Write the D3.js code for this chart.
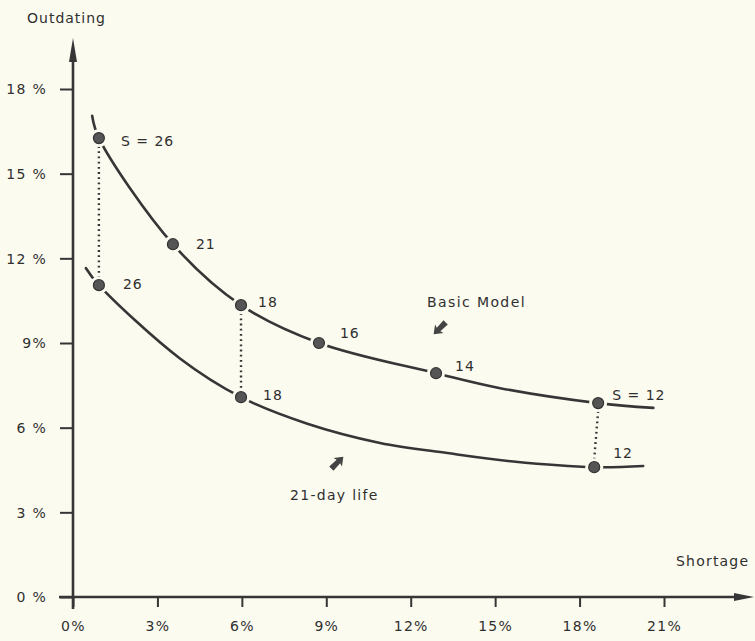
<!DOCTYPE html>
<html>
<head>
<meta charset="utf-8">
<script src="https://cdn.jsdelivr.net/npm/d3@7"></script>
<style>
  html, body { margin: 0; padding: 0; background: #fcfbf0; }
  svg { display: block; }
  text { font-family: "DejaVu Sans", sans-serif; fill: #2f2f2f; }
</style>
</head>
<body>
<svg id="chart" width="755" height="641"></svg>
<script>
// ---- data (in percent) ----
const xTicks = [0, 3, 6, 9, 12, 15, 18, 21];
const xTickLabels = ["0%", "3%", "6%", "9%", "12%", "15%", "18%", "21%"];
const yTicks = [0, 3, 6, 9, 12, 15, 18];
const yTickLabels = ["0 %", "3 %", "6 %", "9%", "12 %", "15 %", "18 %"];

// Basic Model: marked points (S value, shortage %, outdating %)
const basicS = ["S = 26", "21", "18", "16", "14", "S = 12"];
const basicShortage = [0.92, 3.55, 5.97, 8.74, 12.9, 18.66];
const basicOutdating = [16.26, 12.5, 10.34, 9.0, 7.93, 6.87];
// Basic Model: traced curve (shortage %, outdating %)
const basicCurveX = [0.68, 0.92, 3.55, 5.97, 8.74, 12.9, 15.18, 18.66, 20.62];
const basicCurveY = [17.05, 16.26, 12.5, 10.34, 9.0, 7.93, 7.4, 6.87, 6.7];

// 21-day life: marked points
const lifeS = ["26", "18", "12"];
const lifeShortage = [0.92, 5.97, 18.52];
const lifeOutdating = [11.05, 7.08, 4.6];
// 21-day life: traced curve
const lifeCurveX = [0.46, 0.92, 3.8, 5.97, 8.3, 10.91, 13.3, 15.64, 18.52, 20.26];
const lifeCurveY = [11.65, 11.05, 8.45, 7.08, 6.15, 5.46, 5.1, 4.8, 4.6, 4.64];

// ---- drawing ----
const svg = d3.select("#chart");
const bg = "#fcfbf0";
const ink = "#363636";
const fs = "14px";

const x = d3.scaleLinear().domain([0, 21]).range([73, 664]);
const y = d3.scaleLinear().domain([0, 18]).range([597, 89]);

// axes
const xAxis = d3.axisBottom(x).tickValues(xTicks)
  .tickFormat((d, i) => xTickLabels[i]).tickSize(10).tickPadding(14);
const yAxis = d3.axisLeft(y).tickValues(yTicks)
  .tickFormat((d, i) => yTickLabels[i]).tickSize(13).tickPadding(13);

const gx = svg.append("g").attr("transform", `translate(0,${y(0)})`).call(xAxis);
const gy = svg.append("g").attr("transform", `translate(${x(0)},0)`).call(yAxis);
[gx, gy].forEach(g => {
  g.select(".domain").remove();
  g.selectAll(".tick line").attr("stroke", ink).attr("stroke-width", 2);
  g.selectAll(".tick text").style("font-size", fs).attr("fill", "#2f2f2f")
    .style("font-family", "\"DejaVu Sans\", sans-serif").style("letter-spacing", "1.3px");
});
gy.selectAll(".tick text").attr("dy", "0.35em");

// axis lines with arrowheads
svg.append("line").attr("x1", x(0) - 14).attr("x2", 742)
  .attr("y1", y(0)).attr("y2", y(0)).attr("stroke", ink).attr("stroke-width", 2.6);
svg.append("path").attr("d", `M754,${y(0)} L734,${y(0) - 4} L734,${y(0) + 4} Z`).attr("fill", ink);
svg.append("line").attr("x1", x(0)).attr("x2", x(0))
  .attr("y1", y(0) + 12).attr("y2", 52).attr("stroke", ink).attr("stroke-width", 2.6);
svg.append("path").attr("d", `M${x(0)},38 L${x(0) - 4},62 L${x(0) + 4},62 Z`).attr("fill", ink);

// axis titles
svg.append("text").attr("x", 27).attr("y", 23).text("Outdating")
  .style("font-size", fs).style("letter-spacing", "1px");
svg.append("text").attr("x", 676).attr("y", 566).text("Shortage")
  .style("font-size", fs).style("letter-spacing", "1.2px");

// curves
const line = d3.line().x(d => x(d[0])).y(d => y(d[1])).curve(d3.curveCatmullRom.alpha(0.5));
const basicCurve = basicCurveX.map((v, i) => [v, basicCurveY[i]]);
const lifeCurve = lifeCurveX.map((v, i) => [v, lifeCurveY[i]]);
[basicCurve, lifeCurve].forEach(c => {
  svg.append("path").attr("d", line(c)).attr("fill", "none")
    .attr("stroke", ink).attr("stroke-width", 2.6).attr("stroke-linecap", "round");
});

// dotted verticals linking same S
const pairs = [[0, 0], [2, 1], [5, 2]];
pairs.forEach(([bi, li]) => {
  svg.append("line")
    .attr("x1", x(basicShortage[bi])).attr("x2", x(lifeShortage[li]))
    .attr("y1", y(basicOutdating[bi]) + 8).attr("y2", y(lifeOutdating[li]) - 8)
    .attr("stroke", ink).attr("stroke-width", 2.4)
    .attr("stroke-dasharray", "1.8,3.4").attr("stroke-linecap", "butt");
});

// markers (with halo gap)
function markers(xs, ys) {
  xs.forEach((v, i) => {
    svg.append("circle").attr("cx", x(v)).attr("cy", y(ys[i])).attr("r", 9).attr("fill", bg);
    svg.append("circle").attr("cx", x(v)).attr("cy", y(ys[i])).attr("r", 5.5)
      .attr("fill", "#555").attr("stroke", "#333").attr("stroke-width", 1.2);
  });
}
markers(basicShortage, basicOutdating);
markers(lifeShortage, lifeOutdating);

// point labels
const basicLabelOff = [[22, 3], [23, 0], [17, -3], [21, -10], [19, -7], [14, -8]];
const lifeLabelOff = [[24, -1], [22, -2], [19, -14]];
function labels(xs, ys, names, offs) {
  xs.forEach((v, i) => {
    svg.append("text").attr("x", x(v) + offs[i][0]).attr("y", y(ys[i]) + offs[i][1])
      .attr("dy", "0.35em").text(names[i]).style("font-size", fs).style("letter-spacing", "1px");
  });
}
labels(basicShortage, basicOutdating, basicS, basicLabelOff);
labels(lifeShortage, lifeOutdating, lifeS, lifeLabelOff);

// series names
svg.append("text").attr("x", 427).attr("y", 307).text("Basic  Model")
  .style("font-size", fs).style("letter-spacing", "1.4px");
svg.append("text").attr("x", 290).attr("y", 500).text("21-day  life")
  .style("font-size", fs).style("letter-spacing", "1.3px");

// small pointer arrows (tip at -9,0 => points left at angle 0)
function pointer(cx, cy, angle) {
  svg.append("path")
    .attr("d", "M-9,0 L-1,-6 L-2,-2.5 L8,-3 L8,3 L-2,2.5 L-1,6 Z")
    .attr("transform", `translate(${cx},${cy}) rotate(${angle})`)
    .attr("fill", "#444");
}
pointer(440, 328, -45);  // pointing down-left
pointer(337, 463, 135);  // pointing up-right
</script>
</body>
</html>
